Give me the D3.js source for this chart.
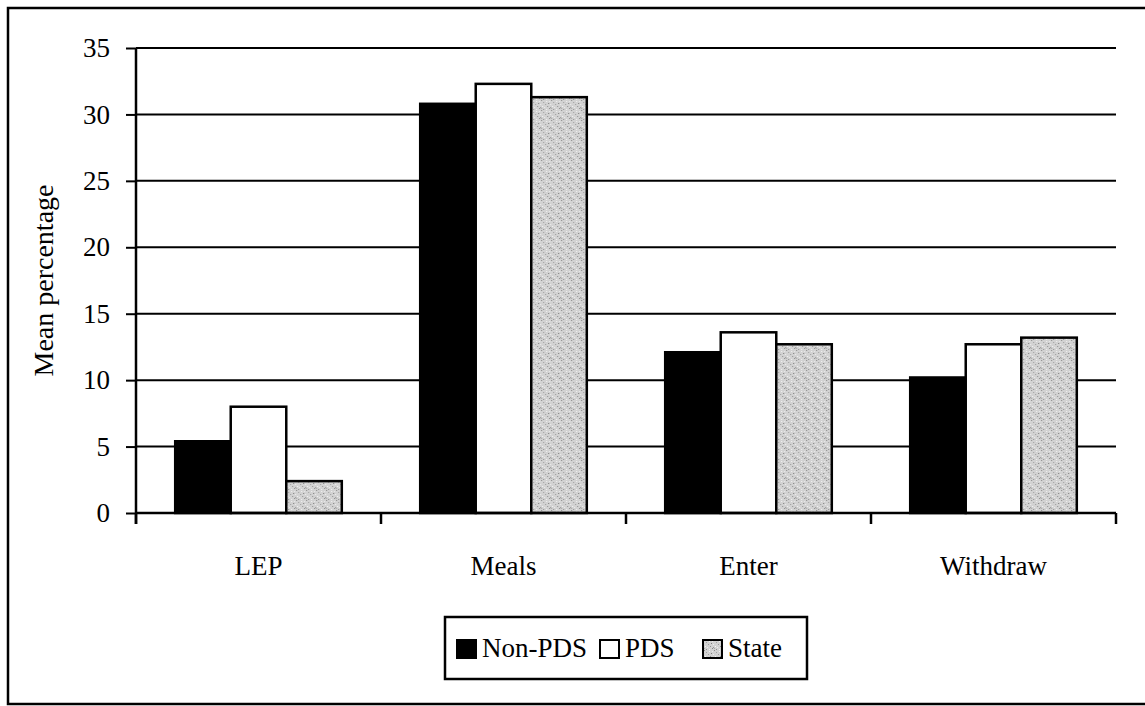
<!DOCTYPE html>
<html>
<head>
<meta charset="utf-8">
<script src="https://cdn.jsdelivr.net/npm/d3@7"></script>
<style>
  html, body { margin: 0; padding: 0; background: #fff; }
  svg { display: block; }
  text { font-family: "Liberation Serif", "DejaVu Serif", serif; fill: #000; }
</style>
</head>
<body>
<svg id="chart" width="1145" height="706"></svg>
<script>
// Mean percentages by indicator for the three comparison groups
const categories = ["LEP", "Meals", "Enter", "Withdraw"];
const seriesNames = ["Non-PDS", "PDS", "State"];
const nonPdsValues = [5.4, 30.8, 12.1, 10.2];
const pdsValues = [8.0, 32.3, 13.6, 12.7];
const stateValues = [2.4, 31.3, 12.7, 13.2];
const yTickValues = [0, 5, 10, 15, 20, 25, 30, 35];
const yTitle = "Mean percentage";

const seriesValues = [nonPdsValues, pdsValues, stateValues];
const rows = categories.map((c, i) => ({
  category: c,
  values: seriesNames.map((s, j) => ({ series: s, value: seriesValues[j][i] }))
}));

const svg = d3.select("#chart");
const plot = { left: 136, right: 1116, top: 48, bottom: 513 };
const fontSize = 27;

// stippled grey fill for the State bars
const defs = svg.append("defs");
const speckle = [
  [1,0,"#8a8a8a"],[6,1,"#f4f4f4"],[3,2,"#a0a0a0"],[8,3,"#7c7c7c"],[0,4,"#efefef"],
  [5,4,"#9a9a9a"],[2,6,"#f6f6f6"],[7,6,"#909090"],[4,7,"#ededed"],[9,8,"#858585"],
  [1,8,"#a6a6a6"],[6,9,"#f2f2f2"],[3,9,"#8f8f8f"],[9,1,"#ebebeb"],[0,7,"#969696"]
];
const pat = defs.append("pattern")
  .attr("id", "stipple").attr("patternUnits", "userSpaceOnUse")
  .attr("width", 10).attr("height", 10);
pat.append("rect").attr("width", 10).attr("height", 10).attr("fill", "#d2d2d2");
pat.selectAll("rect.dot").data(speckle).join("rect").attr("class", "dot")
  .attr("x", d => d[0]).attr("y", d => d[1]).attr("width", 1).attr("height", 1)
  .attr("fill", d => d[2]);

const fills = { "Non-PDS": "#000", "PDS": "#fff", "State": "url(#stipple)" };

// outer frame
svg.append("rect")
  .attr("x", 8).attr("y", 8).attr("width", 1150).attr("height", 696)
  .attr("fill", "none").attr("stroke", "#000").attr("stroke-width", 2.5);

// scales
const y = d3.scaleLinear().domain([0, 35]).range([plot.bottom, plot.top]);
const x0 = d3.scaleBand().domain(categories).range([plot.left, plot.right])
  .paddingInner(0.32).paddingOuter(0.16);
const x1 = d3.scaleBand().domain(seriesNames).range([0, x0.bandwidth()]);

// horizontal gridlines
svg.append("g").selectAll("line")
  .data(yTickValues.filter(v => v > 0)).join("line")
  .attr("x1", plot.left).attr("x2", plot.right)
  .attr("y1", d => y(d)).attr("y2", d => y(d))
  .attr("stroke", "#000").attr("stroke-width", 2);

// bars
const groups = svg.append("g").selectAll("g").data(rows).join("g")
  .attr("transform", d => `translate(${x0(d.category)},0)`);
groups.selectAll("rect").data(d => d.values).join("rect")
  .attr("x", d => x1(d.series))
  .attr("width", x1.bandwidth())
  .attr("y", d => y(d.value))
  .attr("height", d => y(0) - y(d.value))
  .attr("fill", d => fills[d.series])
  .attr("stroke", "#000").attr("stroke-width", 2.5);

// y axis
const yAxis = svg.append("g")
  .attr("transform", `translate(${plot.left},0)`)
  .call(d3.axisLeft(y).tickValues(yTickValues).tickSize(10).tickSizeOuter(0).tickPadding(16));
yAxis.select(".domain").remove();
yAxis.selectAll(".tick line").attr("stroke", "#000").attr("stroke-width", 2);
yAxis.selectAll(".tick text").style("font-size", fontSize + "px")
  .style("font-family", "'Liberation Serif', serif");
yAxis.append("line")
  .attr("x1", 0).attr("x2", 0).attr("y1", plot.top).attr("y2", plot.bottom + 11)
  .attr("stroke", "#000").attr("stroke-width", 2.5);

// x axis with category labels
const xAxis = svg.append("g")
  .attr("transform", `translate(0,${plot.bottom})`)
  .call(d3.axisBottom(x0).tickSize(0).tickSizeOuter(0).tickPadding(43));
xAxis.select(".domain").attr("stroke", "#000").attr("stroke-width", 2.5)
  .attr("d", `M${plot.left},0H${plot.right}`);
xAxis.selectAll(".tick text").style("font-size", fontSize + "px")
  .style("font-family", "'Liberation Serif', serif");
// tick marks between categories
const boundaries = d3.range(categories.length + 1).map(i => plot.left + i * x0.step());
xAxis.selectAll("line.sep").data(boundaries).join("line").attr("class", "sep")
  .attr("x1", d => d).attr("x2", d => d).attr("y1", 0).attr("y2", 11)
  .attr("stroke", "#000").attr("stroke-width", 2.5);

// y axis title
svg.append("text")
  .attr("transform", `translate(53,${(plot.top + plot.bottom) / 2}) rotate(-90)`)
  .attr("text-anchor", "middle")
  .style("font-size", "28px")
  .text(yTitle);

// legend
const legend = svg.append("g");
legend.append("rect")
  .attr("x", 445).attr("y", 617).attr("width", 362).attr("height", 62)
  .attr("fill", "#fff").attr("stroke", "#000").attr("stroke-width", 2.5);
const legendX = [457, 600, 703];
const items = legend.selectAll("g.item").data(seriesNames).join("g").attr("class", "item")
  .attr("transform", (d, i) => `translate(${legendX[i]},640)`);
items.append("rect")
  .attr("x", 0).attr("y", 0).attr("width", 19).attr("height", 18)
  .attr("fill", d => fills[d]).attr("stroke", "#000").attr("stroke-width", 2);
items.append("text")
  .attr("x", 25).attr("y", 17)
  .style("font-size", fontSize + "px")
  .text(d => d);
</script>
</body>
</html>
